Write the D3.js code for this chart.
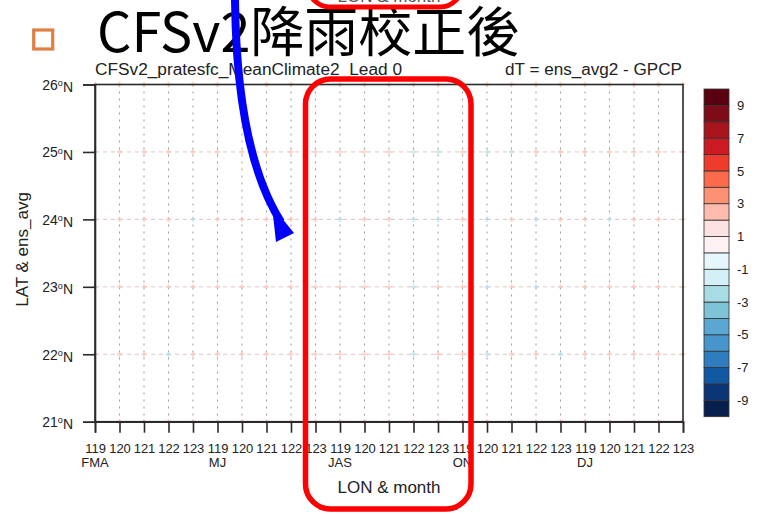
<!DOCTYPE html>
<html>
<head>
<meta charset="utf-8">
<script src="https://cdn.jsdelivr.net/npm/d3@7"></script>
<style>
  body { margin: 0; background: #fff; }
  svg { display: block; }
  text { font-family: "Liberation Sans", Arial, Helvetica, sans-serif; fill: #222; }
</style>
</head>
<body>
<svg id="chart" width="759" height="514"></svg>
<script>
// ---- data ----
const months = ["FMA", "MJ", "JAS", "ON", "DJ"];
const lons = [119, 120, 121, 122, 123];
const lats = [21, 22, 23, 24, 25, 26];
const levels = [-9, -8, -7, -6, -5, -4, -3, -2, -1, 0, 1, 2, 3, 4, 5, 6, 7, 8, 9];
const levelLabels = [9, 7, 5, 3, 1, -1, -3, -5, -7, -9];
const palette = [
  "#061f4c", "#0a3677", "#1259a3", "#2f7dbf", "#4695cb",
  "#5aa7d2", "#7ec4d7", "#a7dce4", "#d4f0f7", "#e6f7fb",
  "#fff0f4", "#fee1e2", "#fdbcae", "#fc9173", "#fb6a4a",
  "#ef3b2c", "#cc1a22", "#a8141c", "#7d0c18", "#5a0010"
];
// dT (ens_avg2 - GPCP) at each latitude, columns run month by month over 119..123E
const dT21 = [2.2, 2.3, 2.2, 2.4, 2.3, 2.2, 2.3, 2.4, 2.2, 2.3, 2.2, 2.4, 2.3, 2.2, 2.3, 2.4, 2.2, 2.3, 2.2, 2.4, 2.3, 2.2, 2.3, 2.4, 2.2];
const dT22 = [2.3, 2.4, 2.2, -2.5, 2.3, 2.4, 2.2, 2.5, 2.3, 2.4, 2.2, 2.3, 2.4, -2.3, 2.5, 2.2, -2.4, 2.3, 2.4, -2.2, 2.3, 2.5, 2.4, 2.2, 2.3];
const dT23 = [2.2, 2.3, 2.4, 2.2, 2.5, 2.3, 2.4, 2.2, 2.3, 2.4, 2.3, 2.5, 2.2, -2.4, 2.3, 2.4, -2.3, 2.2, -2.4, 2.3, 2.4, 2.2, 2.5, 2.3, 2.2];
const dT24 = [2.3, 2.4, 2.5, 2.2, -2.4, 2.3, 2.4, 2.2, 2.5, 2.3, -2.6, 2.4, 2.2, -2.3, -2.5, 2.4, -2.3, 2.2, -2.4, 2.3, 2.5, -2.2, 2.4, 2.3, 2.2];
const dT25 = [2.2, 2.4, 2.3, 2.5, 2.4, 2.3, 2.2, 2.5, 2.4, 2.3, 2.4, 2.2, 2.3, -2.3, -2.4, 2.3, -2.2, -2.5, 2.4, 2.3, 2.2, 2.4, 2.3, 2.5, 2.2];
const dT26 = [2.2, 2.3, 2.2, 2.3, 2.2, 2.3, 2.2, 2.3, 2.2, 2.3, 2.2, 2.3, 2.2, 2.3, 2.2, 2.3, 2.2, 2.3, 2.2, 2.3, 2.2, 2.3, 2.2, 2.3, 2.2];
const dTRows = [dT21, dT22, dT23, dT24, dT25, dT26];

// ---- layout ----
const svg = d3.select("#chart");
const plot = { left: 95, right: 683, top: 84.5, bottom: 421.7 };

const keys = months.flatMap(m => lons.map(l => m + "|" + l));
const x = d3.scalePoint().domain(keys).range([plot.left, plot.right]);
const y = d3.scaleLinear().domain([21, 26]).range([plot.bottom, plot.top]);
const color = d3.scaleThreshold().domain(levels).range(palette);

// ---- slide heading ----
svg.append("rect")
  .attr("x", 33.7).attr("y", 30).attr("width", 19).attr("height", 19)
  .attr("fill", "none").attr("stroke", "#df7f45").attr("stroke-width", 3.2);
svg.append("text")
  .attr("x", 97).attr("y", 52)
  .style("font-family", "'Noto Sans CJK TC', 'Noto Sans CJK SC', sans-serif")
  .style("font-size", "54px").style("fill", "#000")
  .text("CFSv2降雨校正後");

// ---- grid ----
const grid = svg.append("g");
grid.selectAll("line.v")
  .data(keys.slice(1, -1))
  .join("line")
  .attr("x1", d => x(d)).attr("x2", d => x(d))
  .attr("y1", plot.top).attr("y2", plot.bottom)
  .attr("stroke", "#9c9c9c").attr("stroke-width", 1)
  .attr("stroke-dasharray", "2,5");
grid.selectAll("line.h")
  .data(lats.slice(1, -1))
  .join("line")
  .attr("x1", plot.left).attr("x2", plot.right)
  .attr("y1", d => y(d)).attr("y2", d => y(d))
  .attr("stroke", "#dcc6ca").attr("stroke-width", 1)
  .attr("stroke-dasharray", "4,4");

// ---- field values at grid points ----
const points = lats.flatMap((lat, i) => keys.map((k, j) => ({ lat, key: k, v: dTRows[i][j] })));
svg.append("g").selectAll("path")
  .data(points)
  .join("path")
  .attr("transform", d => `translate(${x(d.key)},${y(d.lat)})`)
  .attr("d", d3.symbol().type(d3.symbolCross).size(16))
  .attr("fill", d => color(d.v))
  .attr("opacity", 0.6);

// ---- frame and axes ----
svg.append("rect")
  .attr("x", plot.left).attr("y", plot.top)
  .attr("width", plot.right - plot.left).attr("height", plot.bottom - plot.top)
  .attr("fill", "none").attr("stroke", "#2a2a2a").attr("stroke-width", 1.6);

const xAxis = svg.append("g")
  .attr("transform", `translate(0,${plot.bottom})`)
  .call(d3.axisBottom(x).tickSize(11).tickPadding(11).tickFormat(d => d.split("|")[1]));
xAxis.select(".domain").attr("stroke", "#2a2a2a").attr("stroke-width", 1.6);
xAxis.selectAll(".tick line").attr("stroke", "#2a2a2a").attr("stroke-width", 1.6);
xAxis.selectAll(".tick text").style("font-size", "13px").style("fill", "#222")
  .style("font-family", "'Liberation Sans', Arial, sans-serif");

svg.append("g").selectAll("text")
  .data(months)
  .join("text")
  .attr("x", m => x(m + "|" + lons[0]))
  .attr("y", 467)
  .attr("text-anchor", "middle")
  .style("font-size", "13px")
  .text(m => m);

const yAxis = svg.append("g")
  .attr("transform", `translate(${plot.left},0)`)
  .call(d3.axisLeft(y).tickValues(lats).tickSize(12).tickPadding(10).tickFormat(""));
yAxis.select(".domain").attr("stroke", "#2a2a2a").attr("stroke-width", 1.6);
yAxis.selectAll(".tick line").attr("stroke", "#2a2a2a").attr("stroke-width", 1.6);
yAxis.selectAll(".tick text").each(function (d) {
  const t = d3.select(this)
    .style("font-size", "14px").style("fill", "#222")
    .style("font-family", "'Liberation Sans', Arial, sans-serif")
    .attr("dy", "0.36em");
  t.append("tspan").text(d);
  t.append("tspan").attr("dy", "-0.42em").style("font-size", "9px").text("o");
  t.append("tspan").attr("dy", "0.42em").text("N");
});

// axis titles
svg.append("text")
  .attr("x", (plot.left + plot.right) / 2).attr("y", 493)
  .attr("text-anchor", "middle").style("font-size", "17px")
  .text("LON & month");
svg.append("text")
  .attr("transform", "translate(28,249.5) rotate(-90)")
  .attr("text-anchor", "middle").style("font-size", "17px")
  .text("LAT & ens_avg");

// chart titles
svg.append("text")
  .attr("x", plot.left).attr("y", 74.5)
  .style("font-size", "16px")
  .attr("textLength", 307).attr("lengthAdjust", "spacingAndGlyphs")
  .text("CFSv2_pratesfc_MeanClimate2_Lead 0");
svg.append("text")
  .attr("x", 682).attr("y", 74.5)
  .attr("text-anchor", "end")
  .style("font-size", "16px")
  .attr("textLength", 177).attr("lengthAdjust", "spacingAndGlyphs")
  .text("dT = ens_avg2 - GPCP");

// ---- colour bar ----
const cb = { x: 704, w: 25 };
const yc = d3.scaleLinear().domain([-10, 10]).range([416.7, 89]);
const bins = d3.range(-10, 10);
svg.append("g").selectAll("rect")
  .data(bins)
  .join("rect")
  .attr("x", cb.x).attr("width", cb.w)
  .attr("y", b => yc(b + 1)).attr("height", b => yc(b) - yc(b + 1))
  .attr("fill", b => color(b + 0.5))
  .attr("stroke", "#333").attr("stroke-width", 0.8);
svg.append("g").selectAll("text")
  .data(levelLabels)
  .join("text")
  .attr("x", 737).attr("y", v => yc(v))
  .attr("dy", "0.36em")
  .style("font-size", "13px")
  .text(v => v < 0 ? "-" + Math.abs(v) : v);

// ---- annotations ----
svg.append("rect")
  .attr("x", 308).attr("y", -60).attr("width", 154).attr("height", 67).attr("rx", 22)
  .attr("fill", "none").attr("stroke", "#ff0000").attr("stroke-width", 5);
svg.append("text")
  .attr("x", 389).attr("y", 1.5).attr("text-anchor", "middle")
  .style("font-size", "17px").style("fill", "#555")
  .text("LON & month");
svg.append("rect")
  .attr("x", 305.5).attr("y", 79).attr("width", 165.5).attr("height", 430).attr("rx", 25)
  .attr("fill", "none").attr("stroke", "#ff0000").attr("stroke-width", 5.5);
svg.append("path")
  .attr("d", "M235,0 C236,90 248,170 281,222")
  .attr("fill", "none").attr("stroke", "#0000ff").attr("stroke-width", 8);
svg.append("path")
  .attr("d", "M272,206 L294,233 L276,242 Z")
  .attr("fill", "#0000ff");
</script>
</body>
</html>
